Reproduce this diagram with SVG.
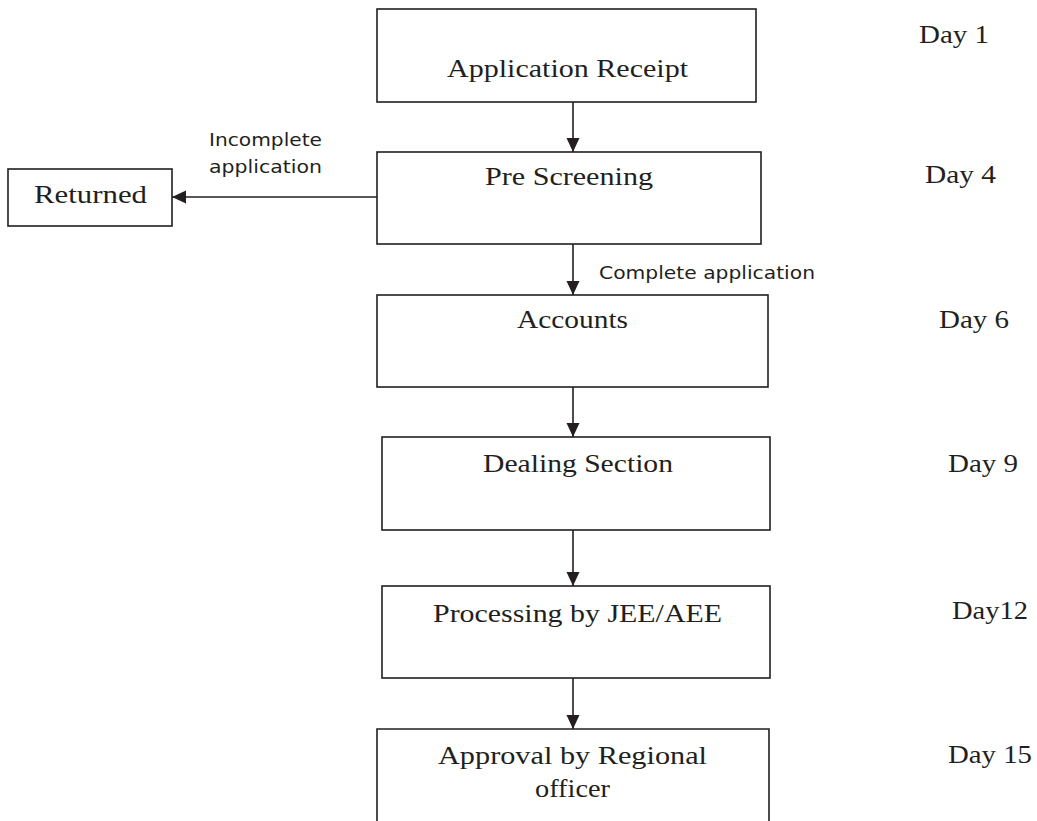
<svg xmlns="http://www.w3.org/2000/svg" width="1037" height="821" viewBox="0 0 1037 821">
  <style>
    .box { fill: #ffffff; stroke: #231f20; stroke-width: 1.6; }
    .lbl { font-family: "Liberation Serif", "DejaVu Serif", serif; font-size: 25px; fill: #231f20; }
    .day { font-family: "Liberation Serif", "DejaVu Serif", serif; font-size: 25px; fill: #231f20; }
    .note { font-family: "DejaVu Sans", "Liberation Sans", sans-serif; font-size: 18px; fill: #231f20; }
    .edge { fill: none; stroke: #231f20; stroke-width: 1.6; }
  </style>
  <defs>
    <marker id="arrow" viewBox="0 0 14 14" refX="14" refY="7" markerWidth="14" markerHeight="14" markerUnits="userSpaceOnUse" orient="auto">
      <path d="M0,0.5 L14,7 L0,13.5 Z" fill="#231f20"/>
    </marker>
  </defs>
  <rect width="1037" height="821" fill="#ffffff"/>

  <g id="connectors">
    <line class="edge" x1="573" y1="102" x2="573" y2="152" marker-end="url(#arrow)"/>
    <line class="edge" x1="377" y1="197" x2="172" y2="197" marker-end="url(#arrow)"/>
    <line class="edge" x1="573" y1="244" x2="573" y2="295" marker-end="url(#arrow)"/>
    <line class="edge" x1="573" y1="387" x2="573" y2="437" marker-end="url(#arrow)"/>
    <line class="edge" x1="573" y1="530" x2="573" y2="586" marker-end="url(#arrow)"/>
    <line class="edge" x1="573" y1="678" x2="573" y2="729" marker-end="url(#arrow)"/>
    <text class="note" x="209" y="146" textLength="113" lengthAdjust="spacingAndGlyphs">Incomplete</text>
    <text class="note" x="209" y="173" textLength="113" lengthAdjust="spacingAndGlyphs">application</text>
    <text class="note" x="599" y="279" textLength="216" lengthAdjust="spacingAndGlyphs">Complete application</text>
  </g>

  <g id="node-receipt">
    <rect class="box" x="377" y="9" width="379" height="93"/>
    <text class="lbl" x="447" y="77" textLength="241" lengthAdjust="spacingAndGlyphs">Application Receipt</text>
  </g>

  <g id="node-prescreening">
    <rect class="box" x="377" y="152" width="384" height="92"/>
    <text class="lbl" x="485" y="185" textLength="168" lengthAdjust="spacingAndGlyphs">Pre Screening</text>
  </g>

  <g id="node-returned">
    <rect class="box" x="8" y="169" width="164" height="57"/>
    <text class="lbl" x="34" y="203" textLength="113" lengthAdjust="spacingAndGlyphs">Returned</text>
  </g>

  <g id="node-accounts">
    <rect class="box" x="377" y="295" width="391" height="92"/>
    <text class="lbl" x="517" y="328" textLength="111" lengthAdjust="spacingAndGlyphs">Accounts</text>
  </g>

  <g id="node-dealing">
    <rect class="box" x="382" y="437" width="388" height="93"/>
    <text class="lbl" x="483" y="472" textLength="190" lengthAdjust="spacingAndGlyphs">Dealing Section</text>
  </g>

  <g id="node-processing">
    <rect class="box" x="382" y="586" width="388" height="92"/>
    <text class="lbl" x="433" y="622" textLength="289" lengthAdjust="spacingAndGlyphs">Processing by JEE/AEE</text>
  </g>

  <g id="node-approval">
    <path class="box" d="M377,822 L377,729 L769,729 L769,822"/>
    <text class="lbl" x="438" y="764" textLength="269" lengthAdjust="spacingAndGlyphs">Approval by Regional</text>
    <text class="lbl" x="535" y="797" textLength="75" lengthAdjust="spacingAndGlyphs">officer</text>
  </g>

  <g id="days">
    <text class="day" x="919" y="43" textLength="70" lengthAdjust="spacingAndGlyphs">Day 1</text>
    <text class="day" x="925" y="183" textLength="71" lengthAdjust="spacingAndGlyphs">Day 4</text>
    <text class="day" x="939" y="328" textLength="70" lengthAdjust="spacingAndGlyphs">Day 6</text>
    <text class="day" x="948" y="472" textLength="70" lengthAdjust="spacingAndGlyphs">Day 9</text>
    <text class="day" x="952" y="619" textLength="76" lengthAdjust="spacingAndGlyphs">Day12</text>
    <text class="day" x="948" y="763" textLength="84" lengthAdjust="spacingAndGlyphs">Day 15</text>
  </g>
</svg>
